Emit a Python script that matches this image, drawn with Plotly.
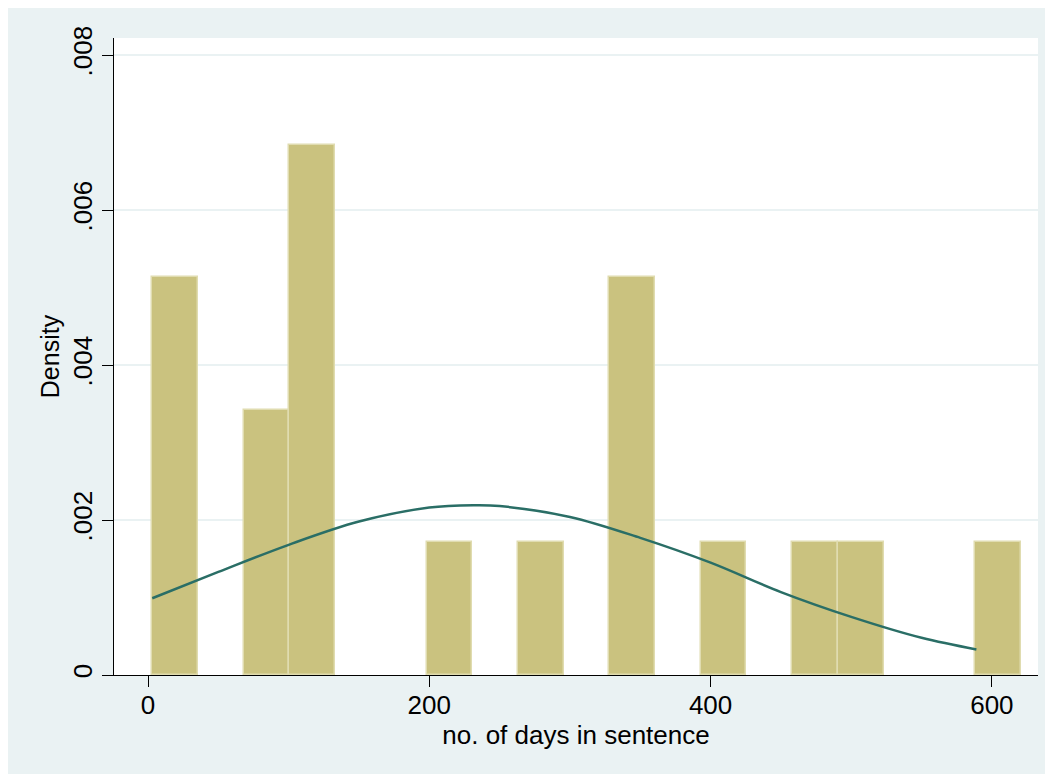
import plotly.graph_objects as go

# Histogram bins (no. of days in sentence) and their densities
bin_left = [3, 68, 100.5, 198, 263, 328, 393, 458, 490.5, 588]
bin_right = [35.5, 100.5, 133, 230.5, 295.5, 360.5, 425.5, 490.5, 523, 620.5]
density = [0.00513, 0.00342, 0.00684, 0.00171, 0.00171, 0.00513, 0.00171, 0.00171, 0.00171, 0.00171]

# Normal density overlay
curve_x = [3, 50, 100, 150, 200, 232, 250, 300, 350, 400, 450, 500, 550, 589]
curve_y = [0.00099, 0.00133, 0.00168, 0.00198, 0.00216, 0.00219, 0.00218, 0.00204,
           0.00177, 0.00145, 0.00107, 0.00075, 0.00048, 0.00033]

x_ticks = [0, 200, 400, 600]
x_ticktext = ["0", "200", "400", "600"]
y_ticks = [0, 0.002, 0.004, 0.006, 0.008]
y_ticktext = ["0", ".002", ".004", ".006", ".008"]

W, H = 1045, 766
L, R, T, B = 106, 15, 30, 99

centers = [(a + b) / 2 for a, b in zip(bin_left, bin_right)]
widths = [b - a for a, b in zip(bin_left, bin_right)]

fig = go.Figure()
fig.add_trace(go.Bar(
    x=centers, y=density, width=widths,
    marker=dict(color="#CAC27F", line=dict(color="#E0DCB0", width=1.5)),
    showlegend=False, hoverinfo="skip",
))
fig.add_trace(go.Scatter(
    x=curve_x, y=curve_y, mode="lines",
    line=dict(color="#2A6E66", width=2.5, shape="spline"),
    showlegend=False, hoverinfo="skip",
))

bg = "#EAF2F3"
fig.update_layout(
    width=W, height=H,
    margin=dict(l=L, r=R, t=T, b=B, autoexpand=False),
    paper_bgcolor=bg,
    plot_bgcolor="white",
    font=dict(family="Liberation Sans, Arial, sans-serif", size=26, color="black"),
    bargap=0,
    xaxis=dict(
        range=[-24.2, 632.8], tickvals=x_ticks, ticktext=x_ticktext,
        showgrid=False, zeroline=False, showline=True, linecolor="black", linewidth=1,
        ticks="outside", ticklen=11, tickcolor="black", tickwidth=1,
        tickfont=dict(size=26), ticklabelstandoff=-4,
        title=dict(text="no. of days in sentence", font=dict(size=26), standoff=0),
        automargin=False,
    ),
    yaxis=dict(
        range=[0, 0.00822], tickvals=y_ticks, ticktext=y_ticktext,
        showgrid=True, gridcolor=bg, gridwidth=2, zeroline=False,
        showline=True, linecolor="black", linewidth=1,
        ticks="outside", ticklen=11, tickcolor="black", tickwidth=1,
        tickangle=-90, tickfont=dict(size=26),
        title=dict(text="Density", font=dict(size=25), standoff=0),
        automargin=False,
    ),
)

fig.write_html("out.html", config={"displayModeBar": False})
